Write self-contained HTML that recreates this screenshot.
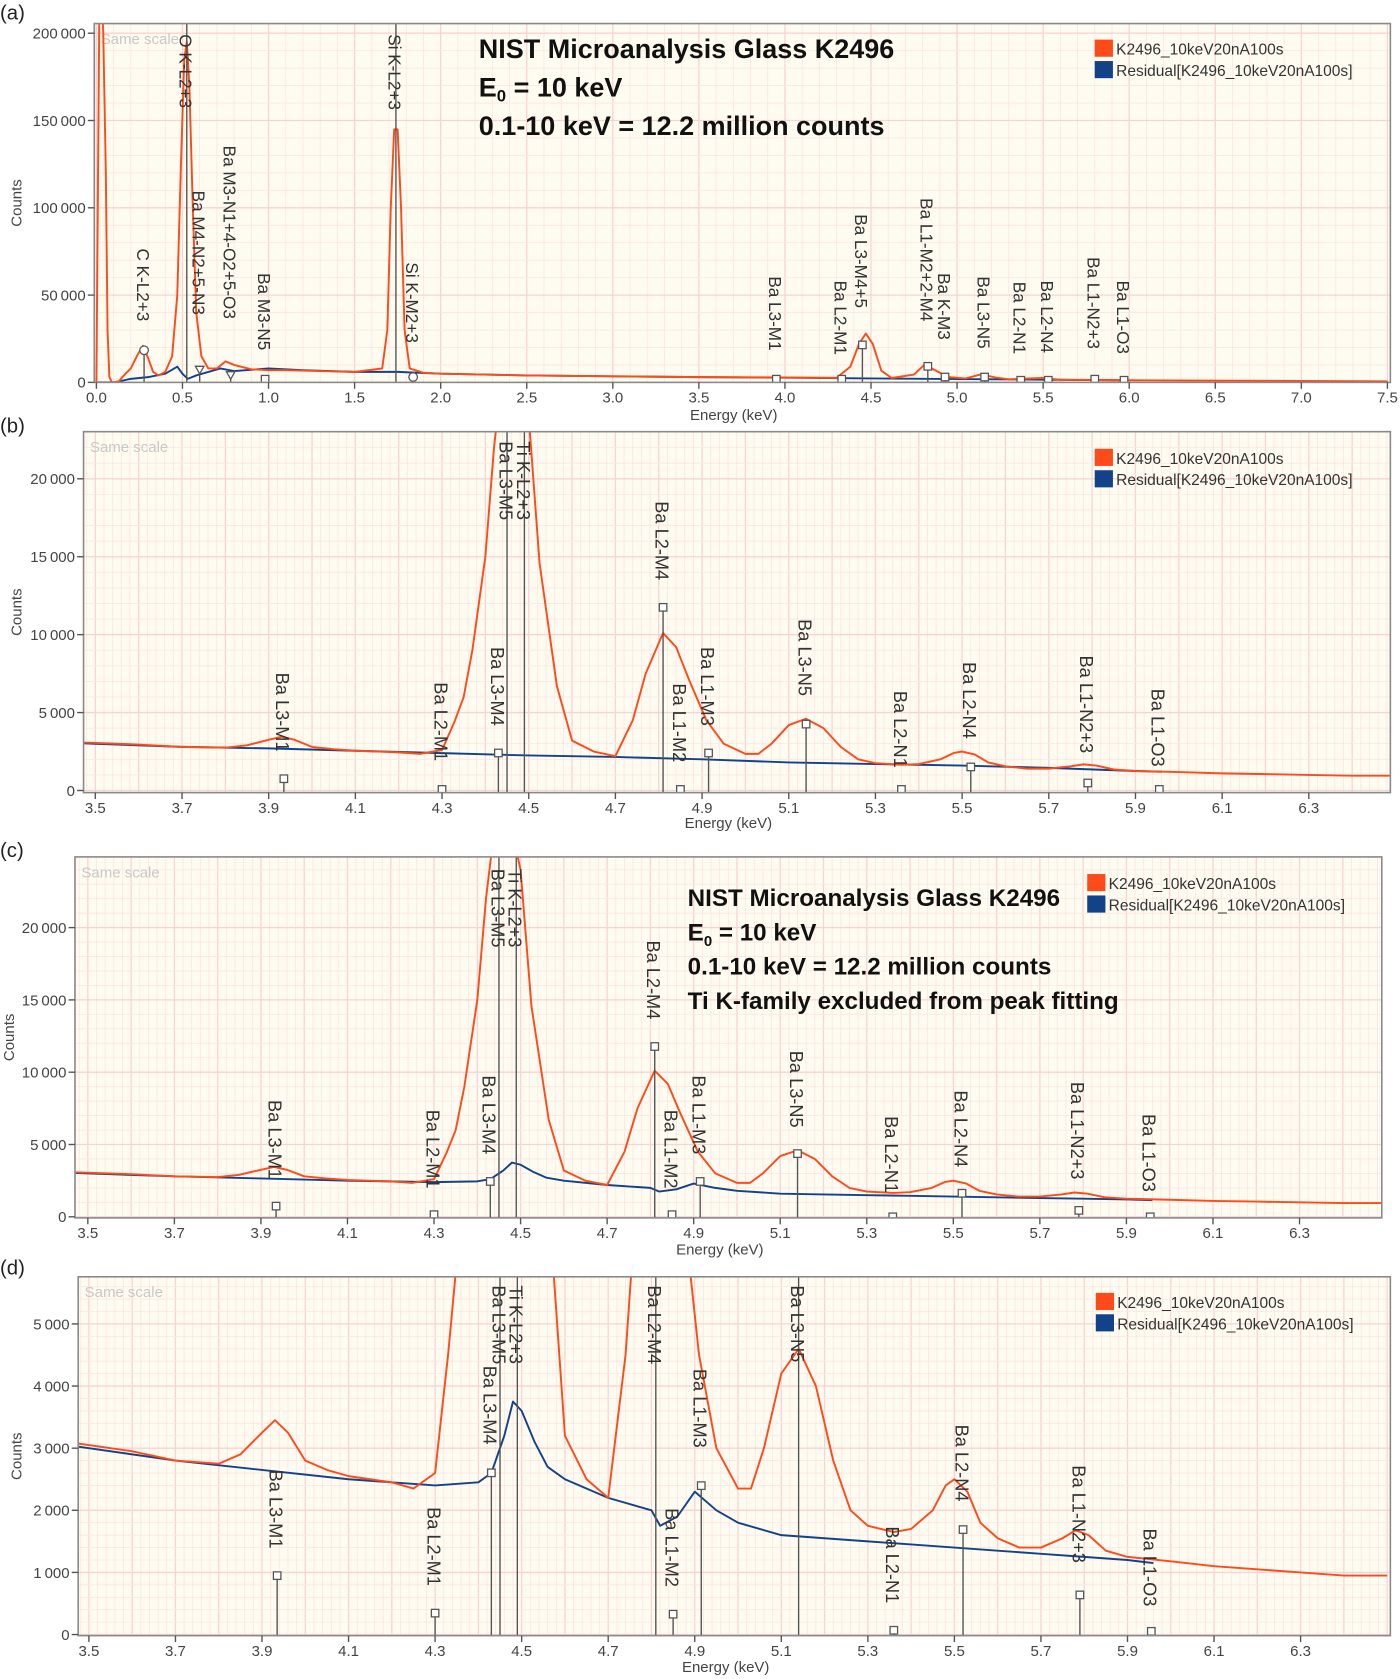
<!DOCTYPE html>
<html><head><meta charset="utf-8">
<style>
html,body{margin:0;padding:0;background:#fff;}
svg{display:block;font-family:"Liberation Sans",sans-serif;}
</style></head>
<body>
<svg id="fig" width="1400" height="1679" viewBox="0 0 1307 1567.5" preserveAspectRatio="none" xmlns="http://www.w3.org/2000/svg"></svg>
<script>
// ---- data ----
const fullEnergies = [0.0,0.02,0.04,0.055,0.065,0.075,0.09,0.13,0.15,0.2,0.24,0.27,0.30,0.33,0.36,0.40,0.44,0.47,0.49,0.51,0.525,0.54,0.56,0.58,0.61,0.65,0.7,0.75,0.8,0.9,1.0,1.1,1.3,1.5,1.66,1.69,1.71,1.73,1.75,1.77,1.79,1.82,1.9,2.0,2.5,3.0,3.5,4.0,4.3,4.38,4.43,4.47,4.51,4.56,4.62,4.75,4.81,4.87,4.95,5.05,5.14,5.22,5.3,5.5,5.6,6.0,7.0,7.5];
const fullCounts = [0,250000,200000,120000,30000,3000,0,500,3000,8000,16000,21000,14000,6000,4000,6000,15000,50000,120000,185000,195000,170000,100000,40000,15000,8000,8000,12000,10000,7500,7000,7000,6500,6000,8000,30000,100000,145000,145000,100000,30000,8000,5500,5000,4000,3500,3000,2800,2600,9000,22000,28000,22000,6700,2500,4500,10100,7100,3000,2300,4600,2800,1800,2500,1500,1200,800,600];
const fullResE = [0.0,0.1,0.2,0.3,0.4,0.47,0.5,0.53,0.58,0.72,0.8,1.0,1.2,1.5,1.75,2.0,2.5,3.0,3.5,4.0,4.5,5.0,5.5,5.95];
const fullResC = [0,0,2000,3000,5000,9000,5000,2000,4000,8000,6500,8000,7000,6000,6000,5000,4000,3500,3000,2700,2250,1900,1600,1200];

const zoomEnergies = [3.45,3.5,3.6,3.7,3.8,3.85,3.9,3.93,3.96,4.0,4.05,4.1,4.15,4.2,4.25,4.30,4.33,4.35,4.37,4.40,4.42,4.44,4.47,4.50,4.525,4.565,4.60,4.65,4.70,4.74,4.77,4.81,4.84,4.87,4.91,4.95,5.0,5.03,5.06,5.10,5.14,5.18,5.22,5.26,5.3,5.36,5.4,5.45,5.48,5.5,5.53,5.56,5.6,5.65,5.7,5.75,5.78,5.81,5.85,5.9,6.0,6.1,6.2,6.3,6.4,6.5];
const zoomCounts = [3100,3050,2950,2800,2750,2900,3250,3450,3250,2800,2650,2550,2500,2450,2350,2600,4500,6000,9000,15000,22000,27000,28000,24000,14600,6700,3200,2500,2200,4500,7500,10100,9200,7100,4500,3000,2350,2350,3000,4200,4600,4000,2800,2000,1750,1650,1700,2000,2400,2500,2300,1800,1550,1400,1400,1550,1680,1600,1350,1250,1180,1100,1050,1000,950,950];
const residualBE = [3.45,3.5,3.7,3.9,4.1,4.3,4.5,4.7,4.9,5.1,5.3,5.5,5.7,5.9,5.96];
const residualBC = [3050,3000,2800,2700,2550,2400,2250,2150,2000,1800,1700,1600,1450,1250,1200];
const residualDE = [3.45,3.5,3.7,3.9,4.1,4.3,4.4,4.43,4.46,4.48,4.5,4.53,4.56,4.6,4.7,4.8,4.82,4.86,4.9,4.95,5.0,5.1,5.2,5.3,5.4,5.5,5.6,5.7,5.8,5.9,5.96];
const residualDC = [3050,3000,2800,2650,2500,2400,2450,2600,3200,3750,3600,3100,2700,2500,2200,2000,1750,1900,2300,2000,1800,1600,1550,1500,1450,1400,1350,1300,1250,1200,1150];

// labels: [text, energy, textTop, markerY(null=no marker), marker]
const labelsA = [["C K-L2+3",0.277,232,327,"o"],["O K-L2+3",0.525,32,null,"o"],["Ba M4-N2+5-N3",0.60,178,345,"v"],["Ba M3-N1+4-O2+5-O3",0.78,136,350,"v"],["Ba M3-N5",0.98,255,354,"s"],["Si K-L2+3",1.74,32,null,""],["Si K-M2+3",1.84,245,352,"o"],["Ba L3-M1",3.95,258,354,"s"],["Ba L2-M1",4.33,262,354,"s"],["Ba L3-M4+5",4.45,200,322,"s"],["Ba L1-M2+2-M4",4.83,185,342,"s"],["Ba K-M3",4.93,255,352,"s"],["Ba L3-N5",5.16,258,352,"s"],["Ba L2-N1",5.37,263,355,"s"],["Ba L2-N4",5.53,262,355,"s"],["Ba L1-N2+3",5.8,240,354,"s"],["Ba L1-O3",5.97,262,355,"s"]];
const labelsB = [["Ba L3-M1",3.935,628,727],["Ba L2-M1",4.30,637,737],["Ba L3-M5",4.45,412,null],["Ti K-L2+3",4.49,412,null],["Ba L3-M4",4.43,604,703],["Ba L2-M4",4.81,468,567],["Ba L1-M2",4.85,638,737],["Ba L1-M3",4.915,604,703],["Ba L3-N5",5.14,578,676],["Ba L2-N1",5.36,645,737],["Ba L2-N4",5.52,618,716],["Ba L1-N2+3",5.79,612,731],["Ba L1-O3",5.955,643,737]];
const labelsC = [["Ba L3-M1",3.935,1027,1126],["Ba L2-M1",4.30,1036,1134],["Ba L3-M5",4.45,811,null],["Ti K-L2+3",4.49,811,null],["Ba L3-M4",4.43,1004,1103],["Ba L2-M4",4.81,878,977],["Ba L1-M2",4.85,1036,1134],["Ba L1-M3",4.915,1004,1103],["Ba L3-N5",5.14,981,1077],["Ba L2-N1",5.36,1042,1136],["Ba L2-N4",5.52,1018,1114],["Ba L1-N2+3",5.79,1010,1130],["Ba L1-O3",5.955,1040,1136]];
const labelsD = [["Ba L3-M1",3.935,1372,1471],["Ba L2-M1",4.30,1407,1506],["Ba L3-M5",4.45,1200,null],["Ti K-L2+3",4.49,1200,null],["Ba L3-M4",4.43,1275,1375],["Ba L2-M4",4.81,1200,null],["Ba L1-M2",4.85,1408,1507],["Ba L1-M3",4.915,1278,1387],["Ba L3-N5",5.14,1200,null],["Ba L2-N1",5.36,1425,1522],["Ba L2-N4",5.52,1330,1428],["Ba L1-N2+3",5.79,1368,1489],["Ba L1-O3",5.955,1427,1523]];

const xTicksA = [0.0,0.5,1.0,1.5,2.0,2.5,3.0,3.5,4.0,4.5,5.0,5.5,6.0,6.5,7.0,7.5];
const yTicksA = [0,50000,100000,150000,200000];
const xTicksZ = [3.5,3.7,3.9,4.1,4.3,4.5,4.7,4.9,5.1,5.3,5.5,5.7,5.9,6.1,6.3];
const yTicksBC = [0,5000,10000,15000,20000];
const yTicksD = [0,1000,2000,3000,4000,5000];

const NS="http://www.w3.org/2000/svg";
const svg=document.getElementById('fig');
function el(tag,attrs,parent){const e=document.createElementNS(NS,tag);for(const k in attrs)e.setAttribute(k,attrs[k]);(parent||svg).appendChild(e);return e;}
function fmt(v){return v>=1000?String(v).replace(/\B(?=(\d{3})+(?!\d))/g,"\u2009"):String(v);}

function panel(cfg){
  const g=el('g',{});
  
  
  const {L,R,T,B,x0,e0,pxk,y0,pxc}=cfg;
  const X=e=>x0+(e-e0)*pxk, Y=c=>y0-c*pxc;
  const lab=el('text',{x:0,y:cfg.labY,'font-size':19,fill:'#222'},g);lab.textContent='('+cfg.id+')';
  
  el('rect',{x:L,y:T,width:R-L,height:B-T,fill:'#fefcf1'},g);
  const cid='clip'+cfg.id;
  const cp=el('clipPath',{id:cid},g);el('rect',{x:L,y:T,width:R-L,height:B-T},cp);
  const grid=el('g',{'clip-path':'url(#'+cid+')'},g);
  
  const ms=cfg.minorX;
  for(let e=Math.ceil(cfg.emin/ms)*ms;e<=cfg.emax;e+=ms){const major=Math.abs(e/cfg.majX-Math.round(e/cfg.majX))<1e-6;el('line',{x1:X(e),x2:X(e),y1:T,y2:B,stroke:major?'#f8d3d3':'#fbe6e3','stroke-width':major?1.2:0.8},grid);}
  for(let c=0;Y(c)>=T;c+=cfg.minorY){const major=Math.abs(c/cfg.majY-Math.round(c/cfg.majY))<1e-6;el('line',{x1:L,x2:R,y1:Y(c),y2:Y(c),stroke:major?'#f8d3d3':'#fbe6e3','stroke-width':major?1.2:0.8},grid);}
  const ss=el('text',{x:L+6,y:T+19,'font-size':14,fill:'#c8c8c8'},g);ss.textContent='Same scale';
  
  const plot=el('g',{'clip-path':'url(#'+cid+')'},g);
  function line(E,C,col,name){let p=[];for(let i=0;i<E.length;i++){p.push(X(E[i]).toFixed(1)+','+Y(C[i]).toFixed(1));}
    const pl=el('polyline',{points:p.join(' '),fill:'none',stroke:col,'stroke-width':1.8,'stroke-linejoin':'round'},plot);
    }
  line(cfg.resE,cfg.resC,'#12438a','residual-series');
  line(cfg.specE,cfg.specC,'#ff4a1a','spectrum-series');
  for(const lb of cfg.labels){
    const x=X(lb[1]);const my=lb[3];
    const lg=el('g',{},plot);
    
    const lineTop=my==null?T:my+3;
    el('line',{x1:x,x2:x,y1:lineTop,y2:B,stroke:'#555','stroke-width':1.3},lg);
    if(my!=null){
      const m=lb[4]||'s';
      if(m==='o')el('circle',{cx:x,cy:my,r:4,fill:'#fff',stroke:'#555','stroke-width':1.2},lg);
      else if(m==='v')el('path',{d:`M${x-4},${my-3} L${x+4},${my-3} L${x},${my+4} Z`,fill:'#fff',stroke:'#555','stroke-width':1.2},lg);
      else el('rect',{x:x-3.5,y:my-3.5,width:7,height:7,fill:'#fff',stroke:'#555','stroke-width':1.2},lg);
    }
    const t=el('text',{transform:`translate(${x-1},${lb[2]}) rotate(90)`,dy:'0.36em','font-size':cfg.lfs,fill:'#333'},lg);
    t.textContent=lb[0];
  }
  const fr=el('rect',{x:L,y:T,width:R-L,height:B-T,fill:'none',stroke:'#8a8a8a','stroke-width':1.5},g);
  
  const xa=el('g',{},g);
  for(const e of cfg.xt){const x=X(e);el('line',{x1:x,x2:x,y1:B,y2:B+6,stroke:'#555','stroke-width':1.3},xa);
    const t=el('text',{x:x,y:B+19,'text-anchor':'middle','font-size':14,fill:'#444'},xa);t.textContent=e.toFixed(1);}
  const xl=el('text',{x:(L+R)/2-8,y:cfg.xlabY,'text-anchor':'middle','font-size':14,fill:'#444'},g);xl.textContent='Energy (keV)';
  
  const ya=el('g',{},g);
  for(const c of cfg.yt){const y=Y(c);el('line',{x1:L-6,x2:L,y1:y,y2:y,stroke:'#555','stroke-width':1.3},ya);
    const t=el('text',{x:L-8,y:y+5,'text-anchor':'end','font-size':14,fill:'#444'},ya);t.textContent=fmt(c);}
  const yl=el('text',{transform:`translate(${cfg.ylabX},${(T+B)/2}) rotate(-90)`,'text-anchor':'middle','font-size':14,fill:'#444'},g);yl.textContent='Counts';
  
  const lgd=el('g',{},g);
  el('rect',{x:cfg.legX,y:cfg.legY,width:17,height:16,fill:'#ff4a1a'},lgd);
  el('rect',{x:cfg.legX,y:cfg.legY+20,width:17,height:16,fill:'#12438a'},lgd);
  const t1=el('text',{x:cfg.legX+20,y:cfg.legY+14,'font-size':14.5,fill:'#333'},lgd);t1.textContent='K2496_10keV20nA100s';
  const t2=el('text',{x:cfg.legX+20,y:cfg.legY+34,'font-size':14.5,fill:'#333'},lgd);t2.textContent='Residual[K2496_10keV20nA100s]';
  return g;
}
const zoomCommon={emin:3.4,emax:6.6,minorX:0.02,majX:0.1,xt:xTicksZ,specE:zoomEnergies,specC:zoomCounts,lfs:17};
panel({id:'a',L:88,R:1298,T:22,B:357,x0:90,e0:0,pxk:160.7,y0:357,pxc:326/200000,emin:0,emax:7.6,minorX:0.1,majX:0.5,minorY:10000,majY:50000,
  xt:xTicksA,yt:yTicksA,specE:fullEnergies,specC:fullCounts,resE:fullResE,resC:fullResC,labels:labelsA,lfs:16,labY:18,xlabY:392,ylabX:20,legX:1022,legY:37});
panel(Object.assign({},zoomCommon,{id:'b',L:78,R:1298,T:403,B:740,x0:89,e0:3.5,pxk:404.6,y0:738,pxc:291/20000,minorY:1000,majY:5000,
  yt:yTicksBC,resE:residualBE,resC:residualBC,labels:labelsB,labY:404,xlabY:773,ylabX:20,legX:1022,legY:419}));
panel(Object.assign({},zoomCommon,{id:'c',L:70,R:1290,T:800,B:1137,x0:82,e0:3.5,pxk:404,y0:1136,pxc:270/20000,minorY:1000,majY:5000,
  yt:yTicksBC,resE:residualDE,resC:residualDC,labels:labelsC,labY:800,xlabY:1171,ylabX:13,legX:1015,legY:816}));
panel(Object.assign({},zoomCommon,{id:'d',L:73,R:1298,T:1192,B:1527,x0:83,e0:3.5,pxk:404,y0:1526,pxc:58/1000,minorY:200,majY:1000,
  yt:yTicksD,resE:residualDE,resC:residualDC,labels:labelsD,labY:1190,xlabY:1561,ylabX:20,legX:1023,legY:1207}));

function title(x,ys,lines,name,fs){const g=el('g',{});
  lines.forEach((s,i)=>{const t=el('text',{x:x,y:ys[i],'font-size':fs,'font-weight':'bold',fill:'#111'},g);
    if(s==='E0'){t.textContent='E';const sub=el('tspan',{'font-size':fs*0.62,dy:5},t);sub.textContent='0';const r=el('tspan',{dy:-5},t);r.textContent=' = 10 keV';}
    else t.textContent=s;});}
title(447,[54,90,126],['NIST Microanalysis Glass K2496','E0','0.1-10 keV = 12.2 million counts'],'title-a',25.2);
title(642,[846,878,910,942],['NIST Microanalysis Glass K2496','E0','0.1-10 keV = 12.2 million counts','Ti K-family excluded from peak fitting'],'title-c',22.6);
</script>
</body></html>
